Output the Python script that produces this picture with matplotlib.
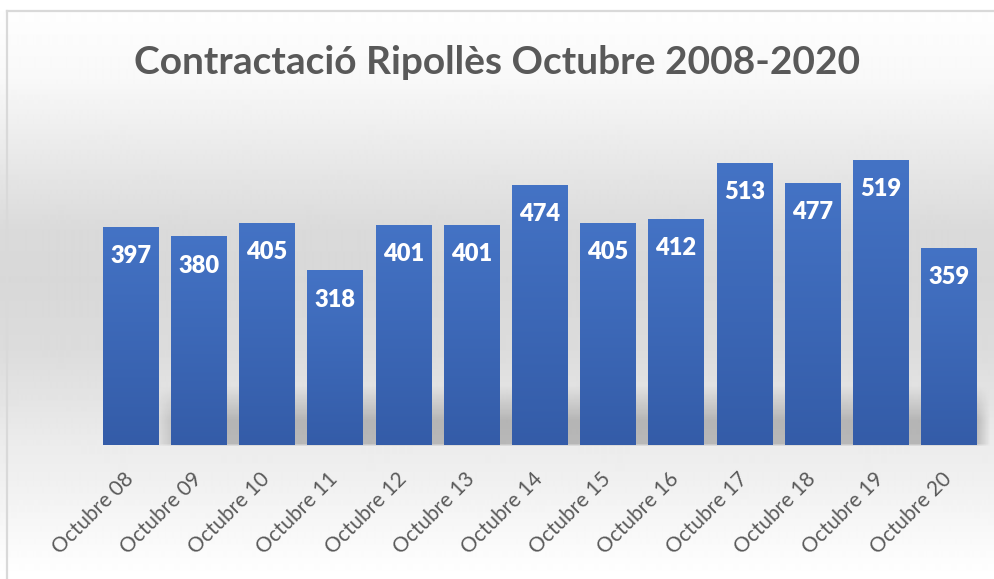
import numpy as np
import matplotlib
matplotlib.use('Agg')  # noqa
import matplotlib.pyplot as plt
from matplotlib.colors import LinearSegmentedColormap

months = ['Octubre 08', 'Octubre 09', 'Octubre 10', 'Octubre 11', 'Octubre 12',
          'Octubre 13', 'Octubre 14', 'Octubre 15', 'Octubre 16', 'Octubre 17',
          'Octubre 18', 'Octubre 19', 'Octubre 20']
contractes = [397, 380, 405, 318, 401, 401, 474, 405, 412, 513, 477, 519, 359]
title = 'Contractació Ripollès Octubre 2008-2020'

W, H = 994, 579
fig = plt.figure(figsize=(W / 100, H / 100), dpi=100)

# background: vertical grey gradient over the whole picture (pixel coords)
bg = fig.add_axes([0, 0, 1, 1], zorder=0)
bg.axis('off')
rows = np.arange(H)
grey = np.interp(rows, [0, 80, 120, 180, 230, 280, 350, 400, 445, 480, 570, 579],
                 [255, 248, 240, 228, 218, 216, 220, 228, 236, 240, 254, 255]) / 255
bg.imshow(np.repeat(grey[:, None], 2, axis=1), cmap='gray', vmin=0, vmax=1,
          extent=(0, W, H, 0), aspect='auto', interpolation='bilinear')

# soft shadow band behind the bottom of the bars
sx = np.arange(W)
sy = np.arange(H)
fx = np.clip((sx - 150) / 30, 0, 1) * np.clip((990 - sx) / 15, 0, 1)
fy = np.clip((sy - 385) / 35, 0, 1) * np.clip((446 - sy) / 3, 0, 1)
shadow = np.zeros((H, W, 4))
shadow[..., 3] = 0.22 * np.outer(fy, fx)
bg.imshow(shadow, extent=(0, W, H, 0), aspect='auto', interpolation='bilinear')

# chart border (left and top edges visible)
bg.plot([7, 7], [H, 10.5], color='#d9d9d9', lw=1.6)
bg.plot([7, W], [10.5, 10.5], color='#d9d9d9', lw=1.6)
bg.set_xlim(0, W)
bg.set_ylim(H, 0)

# main axes: baseline at y=445 px, bar pitch 68.2 px starting at x=130.5 px
base_px = 445
top_px = 100
ax = fig.add_axes([0, (H - base_px) / H, 1, (base_px - top_px) / H], zorder=1)
ax.patch.set_alpha(0)
pitch = 68.2
ax.set_xlim(-130.5 / pitch, (W - 130.5) / pitch)
ax.set_ylim(0, (base_px - top_px) / 0.5491)

x = np.arange(len(months))
bars = ax.bar(x, contractes, width=0.81, color='#3f6bbb', zorder=2)

cmap = LinearSegmentedColormap.from_list('barfill', ['#345ca8', '#4473c5'])
grad = np.linspace(0, 1, 256)[:, None]
for b in bars:
    x0, y0 = b.get_x(), b.get_y()
    im = ax.imshow(grad, cmap=cmap, origin='lower', aspect='auto',
                   extent=(x0, x0 + b.get_width(), y0, y0 + b.get_height()),
                   zorder=3)
    im.set_clip_path(b)
ax.set_xlim(-130.5 / pitch, (W - 130.5) / pitch)
ax.set_ylim(0, (base_px - top_px) / 0.5491)

# value labels inside the top of each bar
for xi, v in zip(x, contractes):
    ax.annotate(str(v), (xi, v), xytext=(0, -21), textcoords='offset points',
                ha='center', va='center', color='white', fontsize=17,
                weight='heavy', family='Lato', zorder=4)

ax.set_xticks(x)
ax.set_xticklabels(months, rotation=45, ha='right', va='center',
                   rotation_mode='anchor', fontsize=15, family='Lato',
                   color='#595959')
ax.tick_params(axis='x', length=0, pad=22)
ax.set_yticks([])
for s in ax.spines.values():
    s.set_visible(False)

fig.text(0.5, 1 - 62 / H, title, ha='center', va='center', fontsize=28,
         weight='bold', family='Lato', color='#595959')

plt.savefig('out.png', dpi=100)
